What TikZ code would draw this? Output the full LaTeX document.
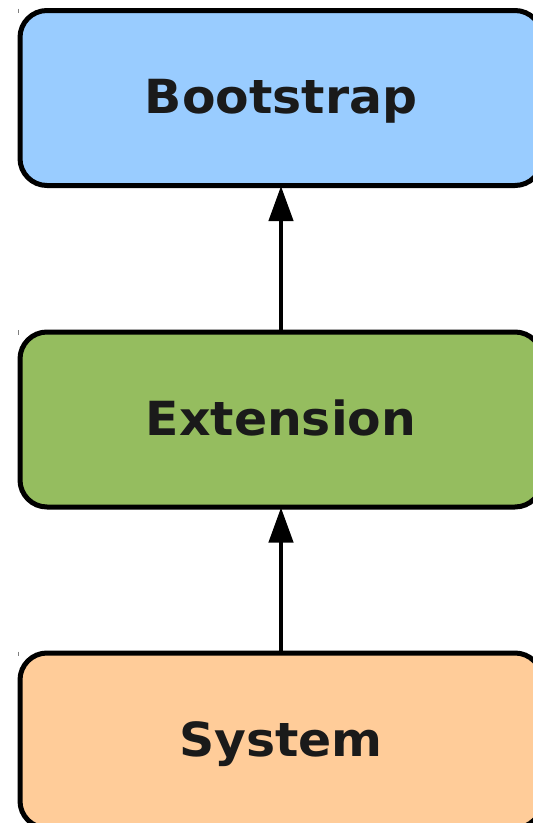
\documentclass[tikz,border=0pt]{standalone}
\usepackage{fontspec}
\newfontfamily\loaderfont[FakeStretch=1.04]{DejaVu Sans}
\usetikzlibrary{arrows.meta}

\definecolor{bootblue}{HTML}{99CCFF}
\definecolor{extgreen}{HTML}{95BD5F}
\definecolor{sysorange}{HTML}{FFCC99}
\definecolor{labelgray}{HTML}{1A1A1A}

\tikzset{
    loaderbox/.style={draw=black, line width=5pt, rounded corners=27pt,
        minimum width=522pt, minimum height=175pt,
        text height=40pt, text depth=9pt, text=labelgray,
        font=\loaderfont\bfseries\fontsize{47pt}{47pt}\selectfont},
    delegate/.style={-{Triangle[width=24pt,length=35pt]}, line width=4.3pt, shorten >=-2pt}
}

\begin{document}
\begin{tikzpicture}[x=1pt,y=-1pt]
    \clip (0,0) rectangle (533,823);

    \node[loaderbox, fill=bootblue] (boot) at (281,98) {Bootstrap};
    \node[loaderbox, fill=extgreen] (ext) at (281,419.5) {Extension};
    \node[loaderbox, fill=sysorange] (sys) at (281,740.5) {System};

    \draw[delegate] (sys.north) -- (ext.south);
    \draw[delegate] (ext.north) -- (boot.south);

    % small marks left of each box
    \foreach \y in {8.5,330,651.5}
        \draw[gray, line width=1pt] (18.6,\y) -- (18.6,\y+4.5);
\end{tikzpicture}
\end{document}
